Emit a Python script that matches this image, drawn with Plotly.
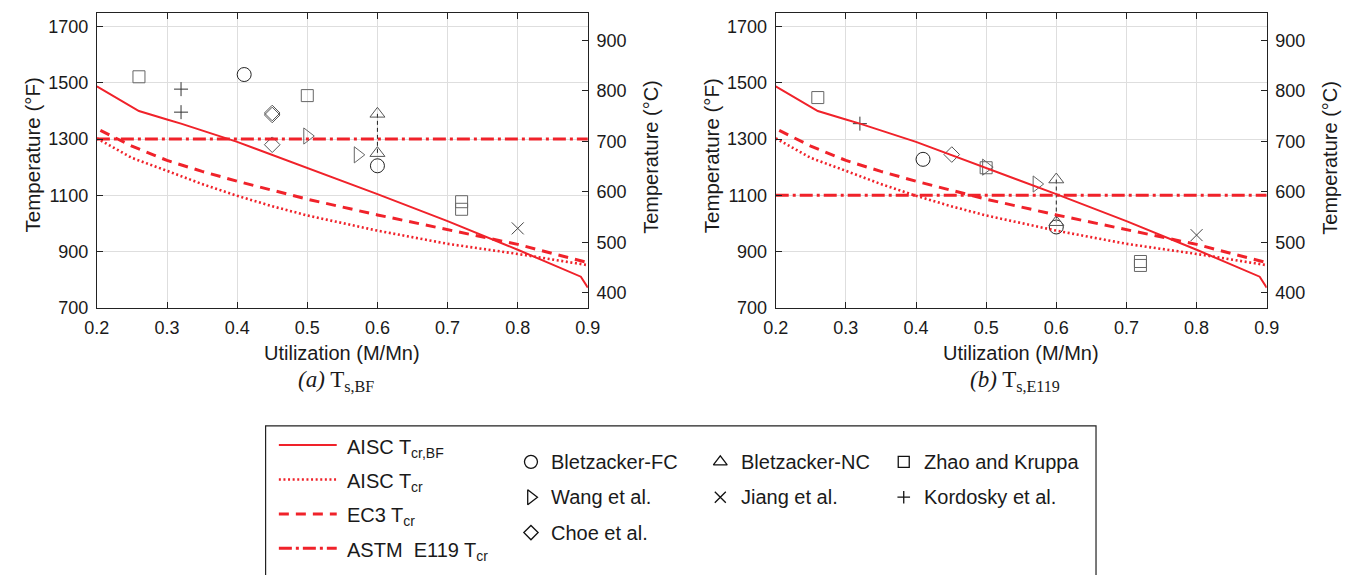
import plotly.graph_objects as go

W, H = 1368, 575

# ---------------- data ----------------
# design curves (temperature in degF vs utilization M/Mn)
u_bf = [0.20, 0.26, 0.30, 0.32, 0.40, 0.50, 0.60, 0.70, 0.80, 0.89, 0.90]
T_bf = [1488, 1400, 1370, 1355, 1290, 1198, 1104, 1008, 906, 810, 771]

u_aisc = [0.20, 0.25, 0.30, 0.35, 0.40, 0.45, 0.50, 0.60, 0.70, 0.80, 0.90]
T_aisc = [1303, 1233, 1187, 1140, 1098, 1061, 1028, 974, 927, 891, 851]

u_ec3 = [0.205, 0.25, 0.30, 0.35, 0.40, 0.45, 0.50, 0.60, 0.70, 0.80, 0.90]
T_ec3 = [1331, 1275, 1224, 1185, 1150, 1117, 1086, 1030, 977, 925, 860]

u_e119 = [0.20, 0.90]
T_e119_a = [1300, 1300]
T_e119_b = [1100, 1100]

# test data, panel (a) T_s,BF
fc_u_a = [0.41, 0.60];            fc_T_a = [1530, 1205]
nc_u_a = [0.60, 0.60];            nc_T_a = [1390, 1250]
zk_u_a = [0.26, 0.50, 0.72, 0.72]; zk_T_a = [1522, 1455, 1077, 1050]
wa_u_a = [0.50, 0.572];           wa_T_a = [1311, 1244]
ji_u_a = [0.80];                  ji_T_a = [982]
ko_u_a = [0.32, 0.32];            ko_T_a = [1478, 1396]
ch_u_a = [0.45, 0.45, 0.45];      ch_T_a = [1393, 1386, 1280]

# test data, panel (b) T_s,E119
fc_u_b = [0.41, 0.60];            fc_T_b = [1228, 987]
nc_u_b = [0.60, 0.60];            nc_T_b = [1156, 1004]
zk_u_b = [0.26, 0.50, 0.72, 0.72]; zk_T_b = [1448, 1198, 864, 850]
wa_u_b = [0.50, 0.572];           wa_T_b = [1200, 1140]
ji_u_b = [0.80];                  ji_T_b = [958]
ko_u_b = [0.32];                  ko_T_b = [1355]
ch_u_b = [0.451];                 ch_T_b = [1245]

x_ticks = [0.2, 0.3, 0.4, 0.5, 0.6, 0.7, 0.8, 0.9]
F_ticks = [700, 900, 1100, 1300, 1500, 1700]
C_ticks = [400, 500, 600, 700, 800, 900]
F_range = [700, 1750]

# ---------------- style ----------------
RED = "#f0222a"
SANS = "Liberation Sans, Arial, sans-serif"
SERIF = "Liberation Serif, Times New Roman, serif"
TXT = "#1a1a1a"


def f2c(v):
    return (v - 32) * 5 / 9


C_range = [f2c(F_range[0]), f2c(F_range[1])]


def px(x):
    return x / W


def py(y):
    return 1 - y / H


A_X = [85.5, 586.0]
B_X = [777.5, 1278.0]
P_Y = [13.0, 313.0]

fig = go.Figure()

markers = [
    ("Bletzacker-FC", "circle-open", 14, "#222222"),
    ("Bletzacker-NC", "triangle-up-open", 13, "#555555"),
    ("Zhao and Kruppa", "square-open", 12, "#666666"),
    ("Wang et al.", "triangle-right-open", 14, "#666666"),
    ("Jiang et al.", "x-thin-open", 12, "#444444"),
    ("Kordosky et al.", "cross-thin-open", 10, "#333333"),
    ("Choe et al.", "diamond-open", 12, "#555555"),
]

panels = [
    ("x", "y", "y2", T_e119_a,
     [(fc_u_a, fc_T_a), (nc_u_a, nc_T_a), (zk_u_a, zk_T_a), (wa_u_a, wa_T_a),
      (ji_u_a, ji_T_a), (ko_u_a, ko_T_a), (ch_u_a, ch_T_a)]),
    ("x2", "y3", "y4", T_e119_b,
     [(fc_u_b, fc_T_b), (nc_u_b, nc_T_b), (zk_u_b, zk_T_b), (wa_u_b, wa_T_b),
      (ji_u_b, ji_T_b), (ko_u_b, ko_T_b), (ch_u_b, ch_T_b)]),
]

for xa, ya, ya2, te119, tests in panels:
    # connector between Bletzacker-NC results
    fig.add_trace(go.Scatter(x=tests[1][0], y=tests[1][1], xaxis=xa, yaxis=ya,
                             mode="lines", line=dict(color="#222222", width=1, dash="4px,3px"),
                             showlegend=False, hoverinfo="skip"))
    for (name, sym, size, col), (uu, tt) in zip(markers, tests):
        fig.add_trace(go.Scatter(x=uu, y=tt, xaxis=xa, yaxis=ya, mode="markers", name=name,
                                 marker=dict(symbol=sym, size=size, color=col,
                                             line=dict(width=1, color=col)),
                                 showlegend=False, cliponaxis=False))
    fig.add_trace(go.Scatter(x=u_aisc, y=T_aisc, xaxis=xa, yaxis=ya, mode="lines",
                             line=dict(color=RED, width=2.6, dash="2px,2.6px"), showlegend=False))
    fig.add_trace(go.Scatter(x=u_ec3, y=T_ec3, xaxis=xa, yaxis=ya, mode="lines",
                             line=dict(color=RED, width=3, dash="10px,7px"), showlegend=False))
    fig.add_trace(go.Scatter(x=u_e119, y=te119, xaxis=xa, yaxis=ya, mode="lines",
                             line=dict(color=RED, width=3, dash="13px,4px,3px,4px"), showlegend=False))
    fig.add_trace(go.Scatter(x=u_bf, y=T_bf, xaxis=xa, yaxis=ya, mode="lines",
                             line=dict(color=RED, width=2), showlegend=False))
    # invisible trace so the degC axis is drawn
    fig.add_trace(go.Scatter(x=u_e119, y=[f2c(v) for v in te119], xaxis=xa, yaxis=ya2,
                             mode="lines", line=dict(width=0, color="rgba(0,0,0,0)"),
                             showlegend=False, hoverinfo="skip"))

# ---------------- legend (drawn in a hidden pixel-space axis) ----------------
leg_lines = [
    ("AISC T<sub>cr,BF</sub>", None, 2, 453),
    ("AISC T<sub>cr</sub>", "2px,2.6px", 2.6, 488),
    ("EC3 T<sub>cr</sub>", "10px,7px", 3, 523),
    ("ASTM  E119 T<sub>cr</sub>", "13px,4px,3px,4px", 3, 558),
]
for label, dash, lw, yy in leg_lines:
    fig.add_trace(go.Scatter(x=[271, 330], y=[yy, yy], xaxis="x3", yaxis="y5", mode="lines",
                             line=dict(color=RED, width=lw, dash=dash), showlegend=False,
                             hoverinfo="skip", cliponaxis=False))
    fig.add_annotation(x=px(338), y=py(yy + 3), xref="paper", yref="paper", text=label,
                       showarrow=False, xanchor="left", yanchor="middle",
                       font=dict(family=SANS, size=20, color=TXT))

leg_pos = [(528, 470, 546), (721, 470, 740), (908, 470, 927),
           (528, 506, 546), (721, 506, 740), (908, 506, 927),
           (528, 542, 546)]
leg_order = [0, 1, 2, 3, 4, 5, 6]
for (mx, my, tx), idx in zip(leg_pos, leg_order):
    name, sym, size, col = markers[idx]
    fig.add_trace(go.Scatter(x=[mx], y=[my], xaxis="x3", yaxis="y5", mode="markers",
                             marker=dict(symbol=sym, size=size - 1, color="#111111",
                                         line=dict(width=1.3, color="#111111")),
                             showlegend=False, hoverinfo="skip", cliponaxis=False))
    fig.add_annotation(x=px(tx), y=py(my), xref="paper", yref="paper", text=name,
                       showarrow=False, xanchor="left", yanchor="middle",
                       font=dict(family=SANS, size=20, color=TXT))

fig.add_shape(type="rect", xref="paper", yref="paper",
              x0=px(257.5), x1=px(1104), y0=py(600), y1=py(433.5),
              line=dict(color="#222222", width=1.2), fillcolor="rgba(0,0,0,0)")

# ---------------- axes ----------------
tickfont = dict(family=SANS, size=18, color=TXT)
xcommon = dict(range=[0.2, 0.9], tickvals=x_ticks, ticktext=[f"{v:.1f}" for v in x_ticks],
               ticks="inside", ticklen=6, tickcolor="#222222", showline=True,
               linecolor="#222222", linewidth=1, mirror="ticks", showgrid=True,
               gridcolor="#dedede", gridwidth=1, zeroline=False, tickfont=tickfont,
               ticklabelstandoff=4)
yleft = dict(range=F_range, tickvals=F_ticks, ticks="inside", ticklen=6, tickcolor="#222222",
             showline=True, linecolor="#222222", linewidth=1, mirror=False, showgrid=True,
             gridcolor="#dedede", gridwidth=1, zeroline=False, tickfont=tickfont,
             domain=[py(P_Y[1]), py(P_Y[0])], ticklabelstandoff=4)
yright = dict(range=C_range, tickvals=C_ticks, ticks="inside", ticklen=6, tickcolor="#222222",
              showline=True, linecolor="#222222", linewidth=1, showgrid=False, zeroline=False,
              tickfont=tickfont, side="right", ticklabelstandoff=4)

fig.update_layout(
    width=W, height=H,
    margin=dict(l=0, r=0, t=0, b=0),
    paper_bgcolor="white", plot_bgcolor="rgba(0,0,0,0)",
    showlegend=False,
    xaxis=dict(domain=[px(A_X[0]), px(A_X[1])], anchor="y", **xcommon),
    xaxis2=dict(domain=[px(B_X[0]), px(B_X[1])], anchor="y3", **xcommon),
    yaxis=dict(anchor="x", **yleft),
    yaxis2=dict(anchor="x", overlaying="y", **yright),
    yaxis3=dict(anchor="x2", **yleft),
    yaxis4=dict(anchor="x2", overlaying="y3", **yright),
    xaxis3=dict(domain=[0, 1], range=[0, W], visible=False, anchor="y5", fixedrange=True),
    yaxis5=dict(domain=[0, 1], range=[H, 0], visible=False, anchor="x3", fixedrange=True),
)

# axis titles and captions
for (x0, x1), cap in [(A_X, "<i>(a)</i> T<sub>s,BF</sub>"), (B_X, "<i>(b)</i> T<sub>s,E119</sub>")]:
    cx = (x0 + x1) / 2
    fig.add_annotation(x=px(cx), y=py(359), xref="paper", yref="paper",
                       text="Utilization (M/Mn)", showarrow=False, xanchor="center",
                       yanchor="middle", font=dict(family=SANS, size=20, color=TXT))
    fig.add_annotation(x=px(cx - 6), y=py(388), xref="paper", yref="paper", text=cap,
                       showarrow=False, xanchor="center", yanchor="middle",
                       font=dict(family=SERIF, size=23, color=TXT))
    fig.add_annotation(x=px(x0 - 66), y=py(158), xref="paper", yref="paper",
                       text="Temperature (°F)", textangle=-90, showarrow=False,
                       xanchor="center", yanchor="middle",
                       font=dict(family=SANS, size=20.5, color=TXT))
    fig.add_annotation(x=px(x1 + 65), y=py(160), xref="paper", yref="paper",
                       text="Temperature (°C)", textangle=-90, showarrow=False,
                       xanchor="center", yanchor="middle",
                       font=dict(family=SANS, size=20, color=TXT))

fig.write_html("out.html")
